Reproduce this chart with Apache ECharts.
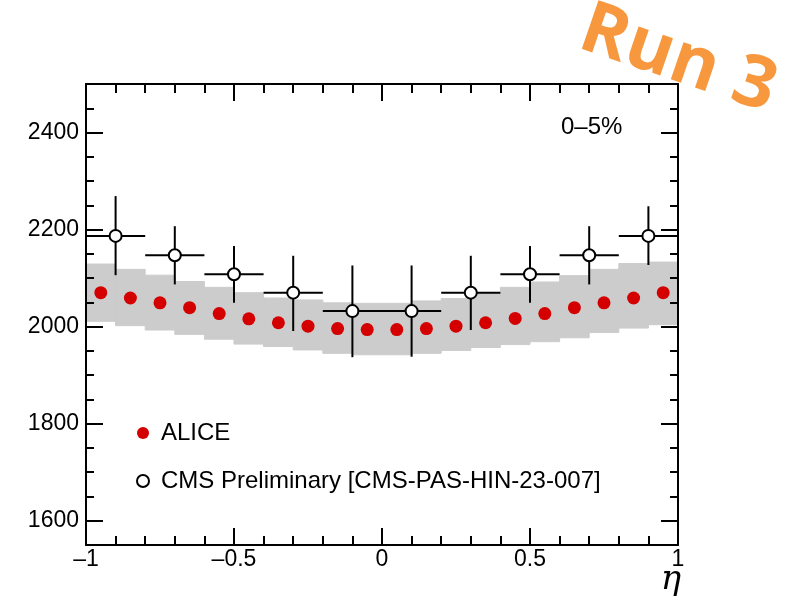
<!DOCTYPE html>
<html>
<head>
<meta charset="utf-8">
<script src="https://cdn.jsdelivr.net/npm/echarts@6/dist/echarts.min.js"></script>
<style>html,body{margin:0;padding:0;background:#fff;}#c{width:789px;height:603px;}</style>
</head>
<body>
<div id="c"></div>
<script>
// ---- data ----
const aliceEta = [-0.95,-0.85,-0.75,-0.65,-0.55,-0.45,-0.35,-0.25,-0.15,-0.05,0.05,0.15,0.25,0.35,0.45,0.55,0.65,0.75,0.85,0.95];
const aliceValues = [2070,2059,2049,2039,2027,2016,2008,2001,1996,1994,1994,1996,2001,2008,2017,2027,2039,2049,2059,2070];
const aliceSystUpper = [2129,2118,2106,2093,2081,2070,2059,2055,2049,2048,2048,2053,2058,2070,2081,2092,2105,2118,2130,2133];
const aliceSystLower = [2011,2002,1993,1984,1974,1964,1959,1952,1945,1942,1942,1945,1951,1957,1963,1969,1977,1988,1997,2004];
const aliceBinHalfWidth = 0.05;

const cmsEta = [-0.9,-0.7,-0.5,-0.3,-0.1,0.1,0.3,0.5,0.7,0.9];
const cmsValues = [2187,2147,2108,2070,2032,2032,2070,2108,2147,2187];
const cmsErrHigh = [2269,2207,2166,2146,2126,2126,2146,2166,2207,2248];
const cmsErrLow = [2106,2087,2049,1991,1937,1938,1993,2049,2087,2127];
const cmsBinHalfWidth = 0.1;

const yLabelValues = [1600,1800,2000,2200,2400];
const xLabelValues = [-1,-0.5,0,0.5,1];
const centralityText = '0\u20135%';
const runText = 'Run 3';
const aliceName = 'ALICE';
const cmsName = 'CMS Preliminary [CMS-PAS-HIN-23-007]';

// ---- chart ----
const FONT = 'Liberation Sans';
const chart = echarts.init(document.getElementById('c'), null, {renderer:'canvas'});

const axisLineStyle = {color:'#000', width:2};
function fmtX(v){ return v < 0 ? '\u2013' + Math.abs(v) : String(v); }
function fmtY(v){ return String(v); }

function makeYAxis(pos, major, withLabels){
  return {
    type:'value', position:pos, min:1550, max:2500, interval:50, z:10,
    axisLine:{show:!major, onZero:false, lineStyle:axisLineStyle},
    axisTick: major
      ? {show:true, inside:true, length:17, customValues:yLabelValues, lineStyle:{color:'#000', width:2}}
      : {show:true, inside:true, length:8, lineStyle:{color:'#000', width:2}},
    axisLabel: withLabels
      ? {show:true, customValues:yLabelValues, formatter:fmtY, margin:7, color:'#000', fontSize:23, fontFamily:FONT}
      : {show:false},
    splitLine:{show:false}
  };
}
function makeXAxis(pos, withLabels){
  return {
    type:'value', position:pos, min:-1, max:1, interval:0.5, z:10,
    axisLine:{show:true, onZero:false, lineStyle:axisLineStyle},
    axisTick:{show:true, inside:true, length:17, lineStyle:{color:'#000', width:2}},
    minorTick:{show:true, splitNumber:5, length:9, lineStyle:{color:'#000', width:2}},
    axisLabel: withLabels
      ? {show:true, margin:3, color:'#000', fontSize:23, fontFamily:FONT, formatter:fmtX, customValues:xLabelValues}
      : {show:false},
    splitLine:{show:false}, minorSplitLine:{show:false}
  };
}

const bandData = aliceEta.map((e,i)=>[e, aliceSystLower[i], aliceSystUpper[i]]);
const aliceData = aliceEta.map((e,i)=>[e, aliceValues[i]]);
const cmsData = cmsEta.map((e,i)=>[e, cmsValues[i]]);
const cmsErrData = cmsEta.map((e,i)=>[e, cmsValues[i], cmsErrLow[i], cmsErrHigh[i]]);

const option = {
  animation:false,
  backgroundColor:'#fff',
  grid:{left:86, right:111, top:84, bottom:58, containLabel:false},
  xAxis:[makeXAxis('bottom', true), makeXAxis('top', false)],
  yAxis:[makeYAxis('left', false, true), makeYAxis('left', true, false),
         makeYAxis('right', false, false), makeYAxis('right', true, false)],
  legend:{
    show:true, orient:'vertical', left:131, top:416, itemGap:24,
    itemWidth:26, itemHeight:12, selectedMode:false,
    textStyle:{color:'#000', fontSize:24, fontFamily:FONT},
    data:[aliceName, cmsName]
  },
  series:[
    {
      type:'custom', name:'syst', z:1, clip:true,
      xAxisIndex:0, yAxisIndex:0,
      encode:{x:0, y:[1,2]},
      data:bandData,
      renderItem:function(params, api){
        const x = api.value(0), lo = api.value(1), hi = api.value(2);
        const p1 = api.coord([x - aliceBinHalfWidth, hi]);
        const p2 = api.coord([x + aliceBinHalfWidth, lo]);
        return {type:'rect', shape:{x:p1[0], y:p1[1], width:p2[0]-p1[0], height:p2[1]-p1[1]},
                style:{fill:'#cccccc', stroke:'#cccccc', lineWidth:1}};
      }
    },
    {
      type:'scatter', name:aliceName, z:2, xAxisIndex:0, yAxisIndex:0,
      symbol:'circle', symbolSize:13,
      itemStyle:{color:'#d40000', opacity:1},
      data:aliceData
    },
    {
      type:'custom', name:'cmsErr', z:3, clip:true,
      xAxisIndex:0, yAxisIndex:0,
      encode:{x:0, y:[1,2,3]},
      data:cmsErrData,
      renderItem:function(params, api){
        const x = api.value(0), v = api.value(1), lo = api.value(2), hi = api.value(3);
        const l = api.coord([x - cmsBinHalfWidth, v]);
        const r = api.coord([x + cmsBinHalfWidth, v]);
        const t = api.coord([x, hi]);
        const b = api.coord([x, lo]);
        const st = {stroke:'#000', lineWidth:2, fill:null};
        return {type:'group', children:[
          {type:'line', shape:{x1:l[0], y1:l[1], x2:r[0], y2:r[1]}, style:st},
          {type:'line', shape:{x1:t[0], y1:t[1], x2:b[0], y2:b[1]}, style:st}
        ]};
      }
    },
    {
      type:'scatter', name:cmsName, z:4, xAxisIndex:0, yAxisIndex:0,
      symbol:'circle', symbolSize:12,
      itemStyle:{color:'#fff', borderColor:'#000', borderWidth:2, opacity:1},
      data:cmsData
    }
  ],
  graphic:[
    {type:'text', left:561, top:115, z:50,
     style:{text:centralityText, fill:'#000', font:'24px "Liberation Sans"'}},
    {type:'text', x:681, y:597, z:50,
     style:{text:'\u03b7', fill:'#000', font:'italic 34px "DejaVu Serif"', textAlign:'right', textVerticalAlign:'bottom'}},
    {type:'text', x:678, y:60, rotation:-0.33, z:100,
     style:{text:runText, fill:'#F7983E', font:'bold 72px "Open Sans"', textAlign:'center', textVerticalAlign:'middle'}}
  ]
};
chart.setOption(option);
</script>
</body>
</html>
